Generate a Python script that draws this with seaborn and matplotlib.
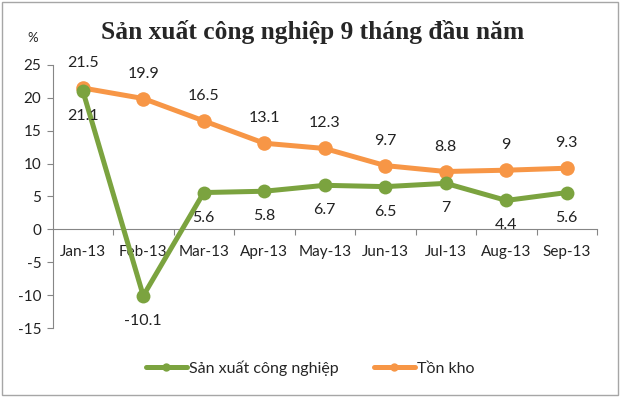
import pandas as pd
import matplotlib.pyplot as plt
import matplotlib.patches as mpatches
from matplotlib.lines import Line2D
import seaborn as sns

months = ['Jan-13', 'Feb-13', 'Mar-13', 'Apr-13', 'May-13', 'Jun-13', 'Jul-13', 'Aug-13', 'Sep-13']
san_xuat = [21.1, -10.1, 5.6, 5.8, 6.7, 6.5, 7, 4.4, 5.6]
ton_kho = [21.5, 19.9, 16.5, 13.1, 12.3, 9.7, 8.8, 9, 9.3]
yticks = [-15, -10, -5, 0, 5, 10, 15, 20, 25]

green = '#7BA33F'
orange = '#F79646'

sns.set_style('white')
plt.rcParams['font.family'] = ['Lato', 'DejaVu Sans']

df = pd.DataFrame({
    'month': months * 2,
    'value': san_xuat + ton_kho,
    'series': ['Sản xuất công nghiệp'] * len(months) + ['Tồn kho'] * len(months),
})

fig = plt.figure(figsize=(6.2, 3.97), dpi=100)
ax = fig.add_axes([0.0847, 0.1738, 0.8783, 0.6625])

sns.lineplot(data=df[df['series'] == 'Sản xuất công nghiệp'], x='month', y='value',
             color=green, lw=3.6, marker='o', markersize=10, markeredgewidth=0,
             ax=ax, legend=False, zorder=3)
sns.lineplot(data=df[df['series'] == 'Tồn kho'], x='month', y='value',
             color=orange, lw=3.6, marker='o', markersize=10.5, markeredgewidth=0,
             ax=ax, legend=False, zorder=2)

# data labels: inventory above, production below
for i, v in enumerate(ton_kho):
    ax.annotate(f'{v:g}', (i, v), xytext=(0, 18), textcoords='offset points',
                ha='center', va='center', fontsize=11.5, color='#222222')
for i, v in enumerate(san_xuat):
    ax.annotate(f'{v:g}', (i, v), xytext=(0, -18), textcoords='offset points',
                ha='center', va='center', fontsize=11.5, color='#222222')

ax.set_xlim(-0.5, len(months) - 0.5)
ax.set_ylim(-15, 25)
ax.set_yticks(yticks)
ax.set_yticklabels([str(t) for t in yticks], fontsize=11, color='#222222')
ax.tick_params(axis='y', direction='out', length=4, width=0.8, color='#868686', pad=4, left=True)

# category axis sitting at zero, ticks between categories
ax.spines['bottom'].set_position(('data', 0))
ax.spines['bottom'].set_color('#868686')
ax.spines['left'].set_color('#868686')
ax.spines['top'].set_visible(False)
ax.spines['right'].set_visible(False)
ax.set_xticks([i + 0.5 for i in range(len(months))])
ax.set_xticklabels([])
ax.set_xticks(range(len(months)), minor=True)
ax.set_xticklabels(months, minor=True, fontsize=11, color='#222222')
ax.tick_params(axis='x', which='major', direction='out', length=4, width=0.8, color='#868686', bottom=True)
ax.tick_params(axis='x', which='minor', length=0, pad=11)
ax.set_xlabel('')
ax.set_ylabel('')
ax.grid(False)

fig.text(0.505, 0.919, 'Sản xuất công nghiệp 9 tháng đầu năm', ha='center', va='center',
         fontsize=18.4, fontweight='bold', family=['Liberation Serif', 'DejaVu Serif'])
fig.text(0.052, 0.905, '%', ha='center', va='center', fontsize=9.5, color='#222222')

handles = [
    Line2D([], [], color=green, lw=3.6, marker='o', markersize=6, markeredgewidth=0),
    Line2D([], [], color=orange, lw=3.6, marker='o', markersize=6, markeredgewidth=0),
]
fig.legend(handles, ['Sản xuất công nghiệp', 'Tồn kho'], loc='center',
           bbox_to_anchor=(0.5, 0.073), ncol=2, frameon=False, fontsize=11.5,
           handlelength=2.6, handletextpad=0.1, columnspacing=2.2)

fig.patches.append(mpatches.Rectangle((0.004, 0.006), 0.992, 0.988, transform=fig.transFigure,
                                      fill=False, edgecolor='#A6A6A6', lw=1))

fig.savefig('out.png', dpi=100)
